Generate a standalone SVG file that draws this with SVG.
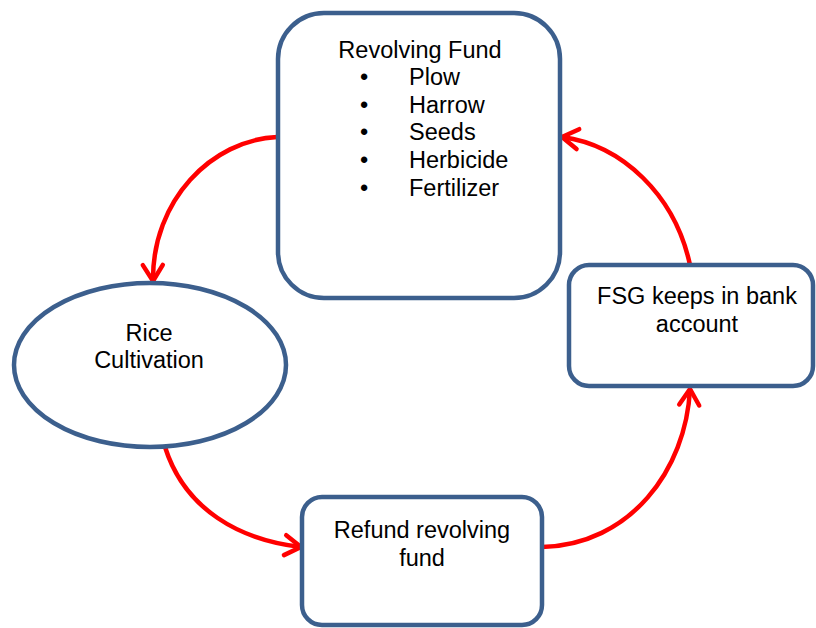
<svg xmlns="http://www.w3.org/2000/svg" width="816" height="628" viewBox="0 0 816 628">
<style>
.node{fill:#fff;stroke:#3C5F8D;stroke-width:4.5}
.t{font-family:"Liberation Sans",Arial,sans-serif;font-size:23.5px;fill:#000}
.c{text-anchor:middle}
.edge{fill:none;stroke:#FF0000;stroke-width:4.5}
</style>
<defs>
<marker id="ah" markerUnits="userSpaceOnUse" viewBox="-22 -13 26 26" refX="0" refY="0" markerWidth="26" markerHeight="26" orient="auto" overflow="visible">
<path d="M-16,-10 L0,0 L-16,10" fill="none" stroke="#FF0000" stroke-width="4.5" stroke-linecap="round" stroke-linejoin="round"/>
</marker>
</defs>
<rect width="816" height="628" fill="#fff"/>
<g id="connectors">
<path class="edge" d="M277,137 C212,140 152,200 153,281" marker-end="url(#ah)"/>
<path class="edge" d="M165,447 C185,510 240,540 301,547" marker-end="url(#ah)"/>
<path class="edge" d="M542,547 C630,545 686,470 690,389" marker-end="url(#ah)"/>
<path class="edge" d="M690,265 C675,195 622,145 562,137" marker-end="url(#ah)"/>
</g>
<g id="revolving-fund">
<rect class="node" x="278" y="13" width="282" height="285" rx="46"/>
<text class="t c" x="420" y="58">Revolving Fund</text>
<g class="t">
<text x="360" y="85">•</text><text x="409" y="85">Plow</text>
<text x="360" y="113">•</text><text x="409" y="113">Harrow</text>
<text x="360" y="140">•</text><text x="409" y="140">Seeds</text>
<text x="360" y="168">•</text><text x="409" y="168">Herbicide</text>
<text x="360" y="196">•</text><text x="409" y="196">Fertilizer</text>
</g>
</g>
<g id="rice-cultivation">
<ellipse class="node" cx="150" cy="365" rx="136" ry="82"/>
<text class="t c" x="149" y="341">Rice</text>
<text class="t c" x="149" y="368">Cultivation</text>
</g>
<g id="refund">
<rect class="node" x="302" y="497" width="240" height="128" rx="20"/>
<text class="t c" x="422" y="538">Refund revolving</text>
<text class="t c" x="422" y="566">fund</text>
</g>
<g id="fsg">
<rect class="node" x="569" y="265" width="244" height="121" rx="20"/>
<text class="t c" x="697" y="304">FSG keeps in bank</text>
<text class="t c" x="697" y="332">account</text>
</g>
</svg>
